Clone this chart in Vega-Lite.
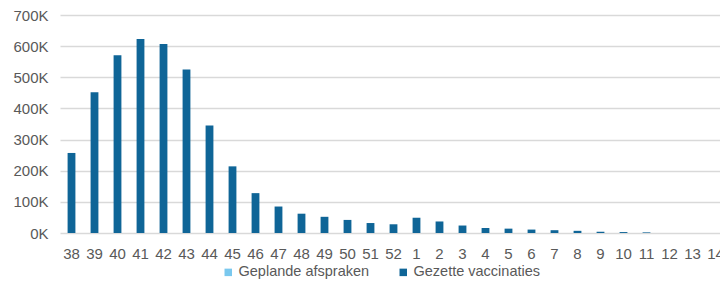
{
  "$schema": "https://vega.github.io/schema/vega-lite/v6.json",
  "autosize": "none",
  "padding": {"left": 60, "top": 15, "right": 0, "bottom": 51},
  "width": 667,
  "height": 218,
  "background": "white",
  "data": {"values": [
    {"week": "38", "series": "Gezette vaccinaties", "value": 257000},
    {"week": "39", "series": "Gezette vaccinaties", "value": 452000},
    {"week": "40", "series": "Gezette vaccinaties", "value": 571000},
    {"week": "41", "series": "Gezette vaccinaties", "value": 623000},
    {"week": "42", "series": "Gezette vaccinaties", "value": 607000},
    {"week": "43", "series": "Gezette vaccinaties", "value": 525000},
    {"week": "44", "series": "Gezette vaccinaties", "value": 345000},
    {"week": "45", "series": "Gezette vaccinaties", "value": 214000},
    {"week": "46", "series": "Gezette vaccinaties", "value": 128000},
    {"week": "47", "series": "Gezette vaccinaties", "value": 85000},
    {"week": "48", "series": "Gezette vaccinaties", "value": 62000},
    {"week": "49", "series": "Gezette vaccinaties", "value": 52000},
    {"week": "50", "series": "Gezette vaccinaties", "value": 42000},
    {"week": "51", "series": "Gezette vaccinaties", "value": 32000},
    {"week": "52", "series": "Gezette vaccinaties", "value": 28000},
    {"week": "1", "series": "Gezette vaccinaties", "value": 49000},
    {"week": "2", "series": "Gezette vaccinaties", "value": 37000},
    {"week": "3", "series": "Gezette vaccinaties", "value": 24000},
    {"week": "4", "series": "Gezette vaccinaties", "value": 16000},
    {"week": "5", "series": "Gezette vaccinaties", "value": 14000},
    {"week": "6", "series": "Gezette vaccinaties", "value": 11000},
    {"week": "7", "series": "Gezette vaccinaties", "value": 9000},
    {"week": "8", "series": "Gezette vaccinaties", "value": 7000},
    {"week": "9", "series": "Gezette vaccinaties", "value": 4000},
    {"week": "10", "series": "Gezette vaccinaties", "value": 3000},
    {"week": "11", "series": "Gezette vaccinaties", "value": 2000},
    {"week": "12", "series": "Gezette vaccinaties", "value": 0},
    {"week": "13", "series": "Gezette vaccinaties", "value": 0},
    {"week": "14", "series": "Gezette vaccinaties", "value": 0},
    {"week": "10", "series": "Geplande afspraken", "value": 0},
    {"week": "11", "series": "Geplande afspraken", "value": 0},
    {"week": "12", "series": "Geplande afspraken", "value": 0},
    {"week": "13", "series": "Geplande afspraken", "value": 0},
    {"week": "14", "series": "Geplande afspraken", "value": 0}
  ]},
  "mark": {"type": "bar"},
  "encoding": {
    "x": {
      "field": "week", "type": "nominal", "sort": null,
      "scale": {"paddingInner": 0.66, "paddingOuter": 0.33},
      "axis": {"title": null, "labelAngle": 0, "domain": false, "ticks": false, "labelPadding": 13, "labelFontSize": 15, "labelColor": "#595959", "labelFont": "Liberation Sans"}
    },
    "y": {
      "field": "value", "type": "quantitative", "stack": "zero",
      "scale": {"domain": [0, 700000]},
      "axis": {"title": null, "values": [0, 100000, 200000, 300000, 400000, 500000, 600000, 700000], "labelExpr": "(datum.value/1000) + 'K'", "domain": false, "ticks": false, "labelPadding": 12, "labelFontSize": 15, "labelColor": "#595959", "labelFont": "Liberation Sans", "gridColor": "#d9d9d9", "gridWidth": 1.5}
    },
    "color": {
      "field": "series", "type": "nominal",
      "scale": {"domain": ["Geplande afspraken", "Gezette vaccinaties"], "range": ["#7ac8ee", "#0f6597"]},
      "legend": {"title": null, "orient": "none", "direction": "horizontal", "legendX": 161, "legendY": 250, "symbolType": "square", "symbolSize": 56, "symbolStrokeWidth": 0, "labelFontSize": 14.5, "labelColor": "#595959", "labelFont": "Liberation Sans", "columnPadding": 26, "labelOffset": 3}
    }
  },
  "config": {"view": {"stroke": null}}
}
